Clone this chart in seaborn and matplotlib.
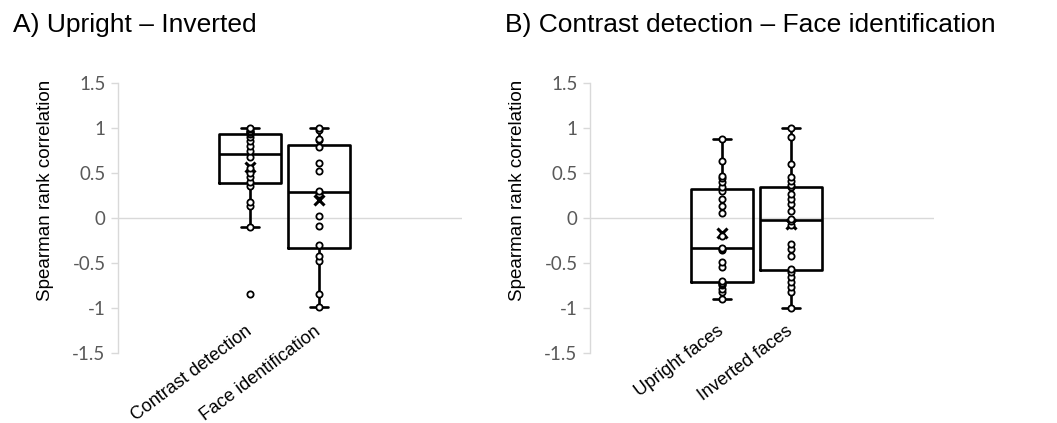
import matplotlib
matplotlib.use("Agg")
import matplotlib.pyplot as plt
import seaborn as sns
import pandas as pd

# ---- data ----
panel_titles = ["A) Upright \u2013 Inverted", "B) Contrast detection \u2013 Face identification"]
cats_A = ["Contrast detection", "Face identification"]
cats_B = ["Upright faces", "Inverted faces"]

A_contrast = [-0.84, -0.10, 0.13, 0.18, 0.36, 0.40, 0.45, 0.50, 0.55, 0.68, 0.74,
              0.80, 0.85, 0.90, 0.93, 0.95, 0.96, 0.97, 0.99, 1.00]
A_face = [-0.99, -0.84, -0.48, -0.42, -0.30, -0.09, 0.02, 0.27, 0.30, 0.52, 0.61,
          0.79, 0.87, 0.88, 0.98, 1.00]
B_upright = [-0.90, -0.82, -0.79, -0.75, -0.73, -0.72, -0.70, -0.54, -0.49, -0.36,
             -0.35, -0.33, -0.20, 0.06, 0.13, 0.21, 0.30, 0.34, 0.40, 0.44, 0.47,
             0.63, 0.88]
B_inverted = [-1.00, -0.82, -0.77, -0.71, -0.66, -0.60, -0.57, -0.42, -0.34, -0.29,
              -0.08, -0.03, -0.01, 0.08, 0.16, 0.21, 0.27, 0.34, 0.37, 0.41, 0.45,
              0.60, 0.90, 1.00]

y_ticks = [-1.5, -1.0, -0.5, 0.0, 0.5, 1.0, 1.5]
y_tick_labels = ["-1.5", "-1", "-0.5", "0", "0.5", "1", "1.5"]
y_label = "Spearman rank correlation"

def long_df(cats, series):
    rows = []
    for c, vals in zip(cats, series):
        for v in vals:
            rows.append({"cat": c, "r": v})
    return pd.DataFrame(rows)

df_A = long_df(cats_A, [A_contrast, A_face])
df_B = long_df(cats_B, [B_upright, B_inverted])

sns.set_style("white")
plt.rcParams["font.family"] = ["Liberation Sans", "DejaVu Sans"]
plt.rcParams["text.color"] = "black"

fig = plt.figure(figsize=(10.57, 4.23), dpi=100)
W, H = 1057, 423
ax_bottom = 1 - 353 / H
ax_height = 270 / H
ax_w = 344 / W
axA = fig.add_axes([118 / W, ax_bottom, ax_w, ax_height])
axB = fig.add_axes([590 / W, ax_bottom, ax_w, ax_height])

grey_axis = "#d9d9d9"
grey_text = "#595959"

for ax, df, cats in [(axA, df_A, cats_A), (axB, df_B, cats_B)]:
    ax.axhline(0, color=grey_axis, lw=1.0, zorder=0)
    sns.boxplot(data=df, x="cat", y="r", order=cats, ax=ax, fill=False,
                color="black", linewidth=1.9, width=0.91, whis=1.5,
                showfliers=False, showmeans=True,
                meanprops=dict(marker="x", markeredgecolor="black",
                               markerfacecolor="black", markersize=7,
                               markeredgewidth=2.2),
                capwidths=0.27)
    sns.stripplot(data=df, x="cat", y="r", order=cats, ax=ax, jitter=False,
                  color="white", edgecolor="black", linewidth=1.3, size=4.5,
                  zorder=5)
    ax.set_ylim(-1.5, 1.5)
    ax.set_xlim(-1.913, 3.073)
    ax.set_yticks(y_ticks)
    ax.set_yticklabels(y_tick_labels, fontsize=13.5, color=grey_text,
                       family=["Lato", "DejaVu Sans"])
    ax.tick_params(axis="y", which="both", left=True, length=5, width=1,
                   color=grey_axis, pad=4)
    ax.set_xticks([0, 1])
    ax.set_xticklabels(cats, rotation=37, ha="right", va="center",
                       rotation_mode="anchor", fontsize=13, color="black")
    ax.tick_params(axis="x", length=0, pad=-17)
    for s in ["top", "right", "bottom"]:
        ax.spines[s].set_visible(False)
    ax.spines["left"].set_color(grey_axis)
    ax.spines["left"].set_linewidth(1.0)
    ax.set_xlabel("")
    ax.set_ylabel(y_label, fontsize=13.5, color="black")
    ax.yaxis.set_label_coords(-0.185, 0.604)
    ax.grid(False)

fig.text(13 / W, 1 - 13 / H, panel_titles[0], fontsize=19, va="top", ha="left",
         color="black")
fig.text(505 / W, 1 - 13 / H, panel_titles[1], fontsize=19, va="top", ha="left",
         color="black")

fig.savefig("out.png", dpi=100, facecolor="white")
